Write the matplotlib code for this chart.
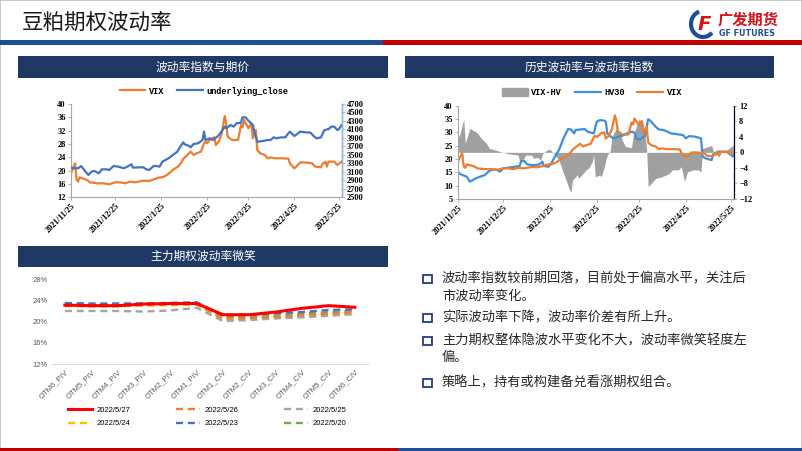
import numpy as np
import pandas as pd
import matplotlib
matplotlib.use('Agg')
import matplotlib.pyplot as plt
from matplotlib.patches import Rectangle, Patch, Arc
from matplotlib.lines import Line2D

plt.rcParams['font.family'] = ['Noto Sans CJK SC', 'DejaVu Sans']

W, H = 802, 451

# ---- chart 1 / 2 data ----
vix_dates = ['2021-11-25', '2021-11-26', '2021-11-28', '2021-11-29', '2021-11-30', '2021-12-01', '2021-12-03',
             '2021-12-06', '2021-12-08', '2021-12-13', '2021-12-17', '2021-12-21', '2021-12-25', '2021-12-28',
             '2022-01-01', '2022-01-04', '2022-01-08', '2022-01-13', '2022-01-17', '2022-01-21', '2022-01-24',
             '2022-01-26', '2022-01-29', '2022-02-02', '2022-02-06', '2022-02-08', '2022-02-09', '2022-02-11',
             '2022-02-14', '2022-02-16', '2022-02-18', '2022-02-21', '2022-02-23', '2022-02-24', '2022-02-25',
             '2022-02-28', '2022-03-02', '2022-03-03', '2022-03-05', '2022-03-07', '2022-03-09', '2022-03-10',
             '2022-03-11', '2022-03-14', '2022-03-17', '2022-03-18', '2022-03-20', '2022-03-21', '2022-03-22',
             '2022-03-25', '2022-03-27', '2022-03-28', '2022-03-30', '2022-03-31', '2022-04-02', '2022-04-05',
             '2022-04-07', '2022-04-09', '2022-04-12', '2022-04-17', '2022-04-21', '2022-04-22', '2022-04-25',
             '2022-04-27', '2022-04-29', '2022-05-04', '2022-05-07', '2022-05-09', '2022-05-13', '2022-05-14',
             '2022-05-16', '2022-05-17', '2022-05-18', '2022-05-22', '2022-05-24', '2022-05-27']
vix = [18.7, 20.2, 22.2, 17.2, 16.7, 18.0, 17.7, 17.2, 16.5, 16.2, 16.2, 15.9, 16.5, 16.5, 16.2, 16.7, 16.5,
       17.0, 16.9, 17.5, 18.0, 18.0, 18.7, 20.2, 21.4, 22.7, 23.5, 24.4, 25.7, 24.7, 25.2, 25.7, 28.2, 28.7,
       28.2, 29.7, 30.0, 27.7, 28.7, 31.2, 36.4, 34.2, 30.2, 29.2, 29.2, 29.2, 33.7, 33.0, 35.2, 32.7, 34.2,
       29.7, 32.2, 26.2, 25.2, 24.7, 23.7, 24.0, 23.7, 23.7, 23.6, 22.2, 20.7, 21.5, 22.5, 22.4, 22.2, 21.2,
       21.0, 22.0, 22.7, 21.2, 22.7, 22.7, 21.7, 22.7]

close_dates = ['2021-11-25', '2021-11-27', '2021-11-30', '2021-12-02', '2021-12-05', '2021-12-07', '2021-12-09',
               '2021-12-11', '2021-12-14', '2021-12-16', '2021-12-19', '2021-12-21', '2021-12-24', '2021-12-27',
               '2021-12-31', '2022-01-03', '2022-01-05', '2022-01-06', '2022-01-11', '2022-01-13', '2022-01-15',
               '2022-01-17', '2022-01-20', '2022-01-22', '2022-01-24', '2022-01-26', '2022-01-30', '2022-02-02',
               '2022-02-05', '2022-02-07', '2022-02-09', '2022-02-10', '2022-02-13', '2022-02-14', '2022-02-16',
               '2022-02-19', '2022-02-22', '2022-02-23', '2022-02-24', '2022-02-27', '2022-03-01', '2022-03-04',
               '2022-03-06', '2022-03-09', '2022-03-10', '2022-03-13', '2022-03-15', '2022-03-17', '2022-03-20',
               '2022-03-21', '2022-03-23', '2022-03-25', '2022-03-28', '2022-03-29', '2022-03-31', '2022-04-01',
               '2022-04-05', '2022-04-07', '2022-04-09', '2022-04-11', '2022-04-13', '2022-04-16', '2022-04-19',
               '2022-04-21', '2022-04-22', '2022-04-25', '2022-04-27', '2022-04-29', '2022-05-03', '2022-05-06',
               '2022-05-08', '2022-05-10', '2022-05-13', '2022-05-15', '2022-05-17', '2022-05-18', '2022-05-20',
               '2022-05-22', '2022-05-24', '2022-05-25', '2022-05-27']
underlying_close = [3200, 3184, 3184, 3238, 3105, 3026, 3105, 3121, 3066, 3160, 3160, 3144, 3238, 3223, 3184,
                    3238, 3278, 3200, 3207, 3207, 3160, 3144, 3238, 3238, 3223, 3341, 3419, 3498, 3576, 3694,
                    3796, 3749, 3710, 3678, 3757, 3773, 3851, 4048, 3851, 3890, 3851, 3930, 4009, 4166, 4126,
                    4205, 4166, 4244, 4260, 4386, 4386, 4307, 4205, 4048, 3812, 3812, 3836, 3851, 3851, 3914,
                    3890, 3914, 3914, 4009, 4048, 3946, 3993, 4048, 4032, 4024, 3946, 3890, 3914, 4071, 4103,
                    4103, 4166, 4166, 4087, 4103, 4205]

hv_dates = ['2021-11-25', '2021-11-26', '2021-11-28', '2021-11-30', '2021-12-01', '2021-12-03', '2021-12-05',
            '2021-12-07', '2021-12-10', '2021-12-13', '2021-12-16', '2021-12-19', '2021-12-21', '2021-12-23',
            '2021-12-25', '2021-12-30', '2022-01-02', '2022-01-05', '2022-01-06', '2022-01-08', '2022-01-10',
            '2022-01-13', '2022-01-16', '2022-01-18', '2022-01-20', '2022-01-21', '2022-01-24', '2022-01-26',
            '2022-01-28', '2022-01-31', '2022-02-03', '2022-02-06', '2022-02-08', '2022-02-10', '2022-02-11',
            '2022-02-15', '2022-02-17', '2022-02-19', '2022-02-21', '2022-02-23', '2022-02-25', '2022-02-27',
            '2022-03-02', '2022-03-03', '2022-03-04', '2022-03-07', '2022-03-09', '2022-03-11', '2022-03-13',
            '2022-03-15', '2022-03-17', '2022-03-20', '2022-03-22', '2022-03-23', '2022-03-24', '2022-03-26',
            '2022-03-28', '2022-03-29', '2022-03-31', '2022-04-01', '2022-04-03', '2022-04-05', '2022-04-07',
            '2022-04-10', '2022-04-13', '2022-04-15', '2022-04-18', '2022-04-23', '2022-04-25', '2022-04-27',
            '2022-05-01', '2022-05-05', '2022-05-06', '2022-05-08', '2022-05-12', '2022-05-13', '2022-05-16',
            '2022-05-22', '2022-05-25', '2022-05-26', '2022-05-27']
hv30 = [15.25, 14.6, 14.0, 13.6, 13.4, 11.5, 12.1, 12.75, 13.4, 14.0, 15.6, 16.1, 15.9, 15.25, 16.5, 16.9,
        17.1, 17.4, 19.25, 19.25, 18.0, 17.75, 17.75, 18.0, 19.0, 17.4, 17.1, 18.4, 20.6, 23.4, 27.75, 31.25,
        31.1, 29.6, 30.9, 31.1, 31.25, 30.25, 29.9, 29.6, 34.0, 34.6, 34.4, 34.0, 29.6, 28.1, 27.75, 28.4,
        28.6, 29.0, 29.6, 30.25, 29.9, 27.75, 27.4, 27.4, 28.4, 28.6, 34.9, 34.6, 33.4, 32.1, 31.1, 30.9,
        30.25, 29.6, 29.4, 29.0, 27.75, 28.6, 28.4, 27.75, 20.9, 20.25, 19.6, 21.75, 22.75, 22.75, 21.5,
        20.9, 22.1]

spread_dates = ['2021-11-25', '2021-11-26', '2021-11-28', '2021-11-29', '2021-11-30', '2021-12-02', '2021-12-03',
                '2021-12-05', '2021-12-07', '2021-12-09', '2021-12-10', '2021-12-13', '2021-12-14', '2021-12-16',
                '2021-12-20', '2021-12-23', '2021-12-26', '2021-12-29', '2022-01-04', '2022-01-05', '2022-01-07',
                '2022-01-09', '2022-01-13', '2022-01-14', '2022-01-17', '2022-01-19', '2022-01-20', '2022-01-23',
                '2022-01-25', '2022-01-27', '2022-01-31', '2022-02-03', '2022-02-05', '2022-02-07', '2022-02-08',
                '2022-02-09', '2022-02-11', '2022-02-12', '2022-02-13', '2022-02-16', '2022-02-18', '2022-02-20',
                '2022-02-22', '2022-02-23', '2022-02-24', '2022-02-27', '2022-02-28', '2022-03-02', '2022-03-03',
                '2022-03-04', '2022-03-06', '2022-03-07', '2022-03-10', '2022-03-12', '2022-03-14', '2022-03-16',
                '2022-03-20', '2022-03-21', '2022-03-23', '2022-03-25', '2022-03-27', '2022-03-29', '2022-03-30',
                '2022-03-31', '2022-04-02', '2022-04-05', '2022-04-09', '2022-04-12', '2022-04-14', '2022-04-16',
                '2022-04-20', '2022-04-22', '2022-04-24', '2022-04-26', '2022-04-30', '2022-05-03', '2022-05-05',
                '2022-05-06', '2022-05-10', '2022-05-12', '2022-05-14', '2022-05-16', '2022-05-19', '2022-05-22',
                '2022-05-25', '2022-05-27']
vix_hv = [5.3, 4.0, 7.0, 8.5, 2.3, 4.8, 6.2, 5.7, 5.3, 4.5, 3.9, 2.7, 2.3, 1.0, 0.6, 0.2, -0.1, -0.4, -0.7,
          -2.4, -2.0, -0.7, -0.7, -1.5, -1.3, -2.0, -0.4, 0.6, 0.8, 0.0, -2.0, -5.4, -7.5, -9.7, -10.1, -7.1,
          -6.3, -5.8, -6.7, -5.4, -4.5, -3.9, -2.4, -0.7, -6.3, -5.8, -6.3, -3.7, -2.0, -0.7, 0.5, 4.0, 6.2,
          5.5, 3.0, 1.5, 1.2, 4.0, 6.5, 8.7, 7.5, 4.0, 1.0, -8.8, -8.0, -6.7, -6.3, -5.8, -5.4, -4.5, -4.5,
          -3.7, -7.5, -5.0, -4.5, -4.5, -5.0, 1.0, 1.5, 1.8, -0.8, -0.5, 0.3, 0.5, 1.5, 2.0]

month_ticks = ['2021-11-25', '2021-12-25', '2022-01-25', '2022-02-25', '2022-03-25', '2022-04-25', '2022-05-25']
month_labels = ['2021/11/25', '2021/12/25', '2022/1/25', '2022/2/25', '2022/3/25', '2022/4/25', '2022/5/25']

# ---- chart 3 data ----
smile_cats = ['OTM6_PIV', 'OTM5_PIV', 'OTM4_PIV', 'OTM3_PIV', 'OTM2_PIV', 'OTM1_PIV',
              'OTM1_CIV', 'OTM2_CIV', 'OTM3_CIV', 'OTM4_CIV', 'OTM5_CIV', 'OTM6_CIV']
smile_0527 = [23.1, 23.0, 23.0, 23.3, 23.4, 23.4, 21.3, 21.3, 21.8, 22.5, 23.0, 22.7]
smile_0526 = [23.0, 22.9, 22.9, 23.1, 23.2, 23.3, 20.6, 20.7, 20.9, 21.2, 21.5, 21.8]
smile_0525 = [22.0, 22.0, 22.0, 21.9, 22.1, 22.6, 20.1, 20.3, 20.6, 20.8, 21.1, 21.4]
smile_0524 = [22.9, 22.9, 22.9, 23.0, 23.1, 23.2, 20.4, 20.5, 20.8, 21.0, 21.3, 21.6]
smile_0523 = [23.5, 23.4, 23.4, 23.4, 23.5, 23.6, 21.2, 21.3, 21.6, 21.8, 22.2, 22.3]
smile_0520 = [23.3, 23.3, 23.3, 23.4, 23.5, 23.6, 20.9, 21.0, 21.3, 21.5, 21.8, 22.0]

bullets = [
    ['波动率指数较前期回落，目前处于偏高水平，关注后', '市波动率变化。'],
    ['实际波动率下降，波动率价差有所上升。'],
    ['主力期权整体隐波水平变化不大，波动率微笑轻度左', '偏。'],
    ['策略上，持有或构建备兑看涨期权组合。'],
]

ORANGE = '#ED7D31'
BLUE1 = '#4472C4'
BLUE2 = '#3D8FDB'
NAVY = '#203864'
GRAY = '#A6A6A6'


def fx(x):
    return x / W


def fy(y):
    return 1 - y / H


def box(x0, y0, x1, y1):
    return [fx(x0), fy(y1), (x1 - x0) / W, (y1 - y0) / H]


fig = plt.figure(figsize=(W / 100, H / 100), dpi=100)

# slide frame, title, stripes
fig.add_artist(Rectangle((0, 0), 1, 1, transform=fig.transFigure, fill=False, ec='#BFBFBF', lw=1.2))
fig.text(fx(22), fy(23), '豆粕期权波动率', fontsize=15.5, color='#1a1a1a', va='center', ha='left')
fig.add_artist(Rectangle((0, fy(45)), fx(383), 5 / H, transform=fig.transFigure, color='#1F4E99', lw=0))
fig.add_artist(Rectangle((fx(383), fy(45)), 1 - fx(383), 5 / H, transform=fig.transFigure, color='#C00000', lw=0))
fig.add_artist(Rectangle((0, 0), fx(398), 3 / H, transform=fig.transFigure, color='#C00000', lw=0))
fig.add_artist(Rectangle((fx(398), 0), 1 - fx(398), 3 / H, transform=fig.transFigure, color='#1F4E99', lw=0))

# logo
fig.add_artist(Arc((fx(703), fy(24)), 24 / W, 26 / H, theta1=100, theta2=300,
                   transform=fig.transFigure, color='#1F4E99', lw=3))
fig.text(fx(704), fy(24), 'F', fontsize=14, color='#D7141A', fontweight='bold', style='italic',
         ha='center', va='center', family='DejaVu Sans')
fig.text(fx(718), fy(19), '广发期货', fontsize=11, color='#D7141A', fontweight='bold', ha='left', va='center')
fig.text(fx(719), fy(33), 'GF FUTURES', fontsize=5.8, color='#1F4E99', fontweight='bold', ha='left',
         va='center', family='DejaVu Sans')

# panel headers
for (x0, y0, x1, y1, title) in [(18, 56, 388, 78, '波动率指数与期价'),
                                 (405, 56, 774, 78, '历史波动率与波动率指数'),
                                 (18, 246, 388, 267, '主力期权波动率微笑')]:
    fig.add_artist(Rectangle((fx(x0), fy(y1)), (x1 - x0) / W, (y1 - y0) / H,
                             transform=fig.transFigure, color=NAVY, lw=0))
    fig.text(fx((x0 + x1) / 2), fy((y0 + y1) / 2), title, color='white', fontsize=8.5,
             ha='center', va='center')

xmin, xmax = pd.Timestamp('2021-11-25'), pd.Timestamp('2022-05-27')
tick_font = dict(family='Liberation Serif', fontweight='bold', size=6)


def style_time(ax, axr, right_color):
    ax.set_xlim(xmin, xmax)
    ax.set_xticks(pd.to_datetime(month_ticks))
    ax.set_xticklabels(month_labels, rotation=45, ha='right', rotation_mode='anchor', **tick_font)
    for lab in ax.get_yticklabels() + axr.get_yticklabels():
        lab.set_fontfamily('Liberation Serif')
        lab.set_fontweight('bold')
        lab.set_fontsize(6)
    ax.tick_params(axis='both', length=2, width=0.6, color=GRAY, pad=1.5)
    axr.tick_params(axis='y', length=2, width=0.6, color=right_color, pad=1.5)
    for a in (ax, axr):
        a.spines['top'].set_visible(False)
    ax.spines['left'].set_color(GRAY)
    ax.spines['bottom'].set_color(GRAY)
    axr.spines['left'].set_visible(False)
    axr.spines['bottom'].set_visible(False)
    axr.spines['right'].set_color(right_color)
    axr.spines['right'].set_linewidth(1.0)


# ---- chart 1 ----
ax1 = fig.add_axes(box(70.7, 104, 341.7, 197.3))
ax1r = ax1.twinx()
ax1.plot(pd.to_datetime(vix_dates), vix, color=ORANGE, lw=1.6)
ax1r.plot(pd.to_datetime(close_dates), underlying_close, color=BLUE1, lw=1.6)
ax1.set_ylim(12, 40)
ax1.set_yticks(np.arange(12, 41, 4))
ax1r.set_ylim(2500, 4700)
ax1r.set_yticks(np.arange(2500, 4701, 200))
style_time(ax1, ax1r, '#8EB4E3')
fig.legend(handles=[Line2D([], [], color=ORANGE, lw=1.6), Line2D([], [], color=BLUE1, lw=1.6)],
           labels=['VIX', 'underlying_close'], loc='center', bbox_to_anchor=(fx(204), fy(91)),
           ncol=2, frameon=False, prop=dict(family='Liberation Mono', size=6.2, weight='bold'),
           handlelength=3.0, handletextpad=0.4, columnspacing=1.5)

# ---- chart 2 ----
ax2 = fig.add_axes(box(457.7, 105.7, 734.3, 199))
ax2r = ax2.twinx()
ax2r.fill_between(pd.to_datetime(spread_dates), 0, vix_hv, color='#A0A0A0', lw=0)
ax2.plot(pd.to_datetime(hv_dates), hv30, color=BLUE2, lw=1.6)
ax2.plot(pd.to_datetime(vix_dates), vix, color=ORANGE, lw=1.6)
ax2.set_zorder(ax2r.get_zorder() + 1)
ax2.patch.set_visible(False)
ax2.set_ylim(5, 40)
ax2.set_yticks(np.arange(5, 41, 5))
ax2r.set_ylim(-12, 12)
ax2r.set_yticks(np.arange(-12, 13, 4))
style_time(ax2, ax2r, '#8EB4E3')
fig.legend(handles=[Patch(color='#A0A0A0'), Line2D([], [], color=BLUE2, lw=1.6),
                    Line2D([], [], color=ORANGE, lw=1.6)],
           labels=['VIX-HV', 'HV30', 'VIX'], loc='center', bbox_to_anchor=(fx(592), fy(92.5)),
           ncol=3, frameon=False, prop=dict(family='Liberation Mono', size=6.2, weight='bold'),
           handlelength=3.0, handleheight=0.9, handletextpad=0.4, columnspacing=1.5)

# ---- chart 3 ----
ax3 = fig.add_axes(box(51.7, 279, 368, 364.3))
xs = np.arange(len(smile_cats))
series = [('2022/5/27', smile_0527, '#FF0000', '-'),
          ('2022/5/26', smile_0526, '#ED7D31', '--'),
          ('2022/5/25', smile_0525, '#A5A5A5', '--'),
          ('2022/5/24', smile_0524, '#FFC000', '--'),
          ('2022/5/23', smile_0523, '#4472C4', '--'),
          ('2022/5/20', smile_0520, '#70AD47', '--')]
handles = {}
for i, (name, vals, col, ls) in enumerate(series):
    if ls == '-':
        h, = ax3.plot(xs, vals, color=col, lw=2.2, zorder=10)
    else:
        h, = ax3.plot(xs, vals, color=col, lw=1.7, ls=ls, dashes=(3.0, 2.0), zorder=5 - i * 0.1)
    handles[name] = h
ax3.set_xlim(-0.5, len(smile_cats) - 0.5)
ax3.set_ylim(12, 28)
ax3.set_yticks([12, 16, 20, 24, 28])
ax3.set_yticklabels(['12%', '16%', '20%', '24%', '28%'], fontsize=5.5, color='#595959',
                    family='Liberation Sans')
ax3.set_xticks(xs)
ax3.set_xticklabels(smile_cats, rotation=45, ha='right', rotation_mode='anchor', fontsize=5.5,
                    color='#595959', family='Liberation Sans')
ax3.tick_params(axis='both', length=0, pad=3)
for s in ['top', 'right', 'left']:
    ax3.spines[s].set_visible(False)
ax3.spines['bottom'].set_color('#D9D9D9')
order = ['2022/5/27', '2022/5/24', '2022/5/26', '2022/5/23', '2022/5/25', '2022/5/20']
fig.legend(handles=[handles[k] for k in order], labels=order, loc='center',
           bbox_to_anchor=(fx(207), fy(417)), ncol=3, frameon=False,
           prop=dict(family='Liberation Sans', size=5.5), handlelength=3.2, handletextpad=0.5,
           columnspacing=6.0, labelspacing=0.8)

# ---- bullet text ----
bullet_rows = [279, 318, 341, 383]
for lines, y in zip(bullets, bullet_rows):
    fig.add_artist(Rectangle((fx(423.5), fy(y + 4)), 8 / W, 8 / H, transform=fig.transFigure,
                             fill=False, ec='#1F3A8A', lw=1.3))
    for k, line in enumerate(lines):
        fig.text(fx(442), fy(y + k * 17), line, fontsize=9.5, color='#262626', ha='left', va='center')

fig.savefig('out.png', dpi=100)
